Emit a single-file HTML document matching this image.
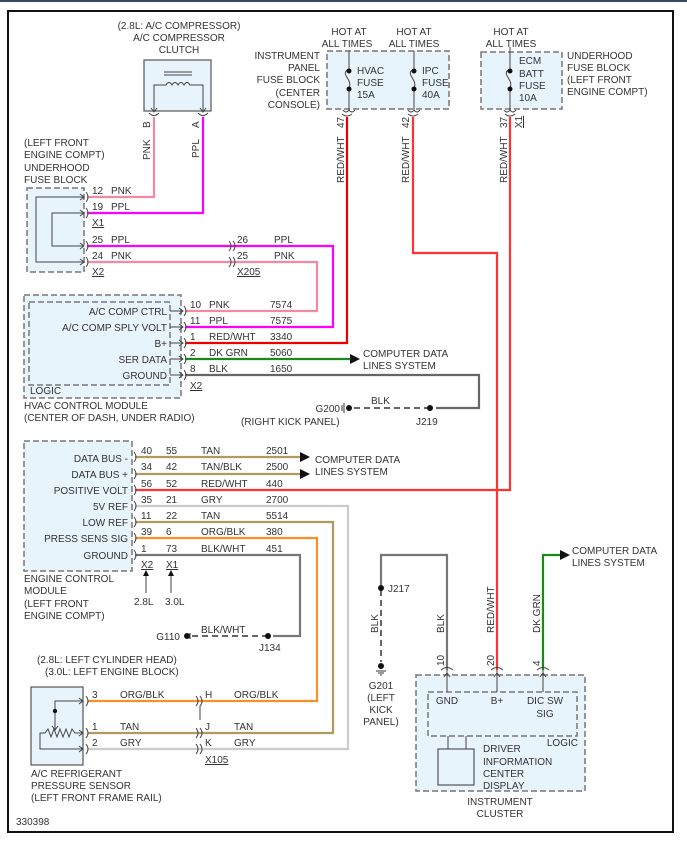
<!DOCTYPE html>
<html><head><meta charset="utf-8"><style>
html,body{margin:0;padding:0;background:#fff}
svg{display:block}
text{font-family:"Liberation Sans",Arial,sans-serif;font-size:10px;fill:#333}
.d{fill:#e8f4fc;stroke:#777;stroke-width:1.5;stroke-dasharray:6,3}
.s{fill:#e8f4fc;stroke:#555;stroke-width:1.2}
.k{fill:none;stroke:#444;stroke-width:1}
.w{fill:none;stroke-width:2.2}
.r{text-anchor:end}
.m{text-anchor:middle}
</style></head><body>
<svg width="687" height="844" viewBox="0 0 687 844">
<rect x="0" y="0" width="687" height="2" fill="#3a4a5a"/>
<rect x="8" y="11" width="665" height="821" fill="none" stroke="#111" stroke-width="2"/>

<!-- wires -->
<g class="w">
<path d="M154 117V197H87" stroke="#f48aa0"/>
<path d="M203 117V213H87" stroke="#f0f"/>
<path d="M87 246H333V327H185" stroke="#f0f"/>
<path d="M87 262H317V311H185" stroke="#f48aa0"/>
<path d="M347 117V343H185" stroke="#e00"/>
<path d="M413 117V253H497V670" stroke="#f33"/>
<path d="M510 117V490H135" stroke="#f33"/>
<path d="M185 359H350" stroke="#1a8a1a"/>
<path d="M185 375H479V408H436" stroke="#666"/>
<path d="M135 457H300" stroke="#b09a60"/>
<path d="M135 474H300" stroke="#b09a60"/>
<path d="M135 506H348V749H88" stroke="#ccc"/>
<path d="M135 522H333V733H88" stroke="#b09a60"/>
<path d="M135 538H317V701H88" stroke="#f5902a"/>
<path d="M135 555H300V636H273" stroke="#777"/>
<path d="M381 588V555H447V670" stroke="#777"/>
<path d="M543 670V555H562" stroke="#1a8a1a"/>
</g>
<path d="M430 408H352" stroke="#666" stroke-width="2" stroke-dasharray="6,4" fill="none"/>
<path d="M268 636H190" stroke="#666" stroke-width="2" stroke-dasharray="6,4" fill="none"/>
<path d="M381 590V662" stroke="#666" stroke-width="2" stroke-dasharray="6,4" fill="none"/>
<path d="M200 706V720" stroke="#444" stroke-width="1"/>
<!-- arrowheads -->
<path d="M350 354L360 359L350 364Z" fill="#111"/>
<path d="M300 452L310 457L300 462Z" fill="#111"/>
<path d="M300 469L310 474L300 479Z" fill="#111"/>
<path d="M560 550L570 555L560 560Z" fill="#111"/>
<!-- dots -->
<g fill="#111"><circle cx="430" cy="408" r="3"/><circle cx="349" cy="408" r="3"/><circle cx="268" cy="636" r="3"/><circle cx="187" cy="636" r="3"/><circle cx="381" cy="588" r="3"/><circle cx="381" cy="666" r="3"/></g>
<path d="M344 403V413M342 405V411M190 633V639" stroke="#333" stroke-width="1"/>
<path d="M376 671H386M378 673H384M380 675H382" stroke="#333"/>

<!-- compressor clutch -->
<text class="m" x="179" y="29">(2.8L: A/C COMPRESSOR)</text>
<text class="m" x="179" y="41">A/C COMPRESSOR</text>
<text class="m" x="179" y="53">CLUTCH</text>
<rect class="s" x="144" y="60" width="67" height="51"/>
<path class="k" d="M164 72H192M164 75H192M154 112V85H166q3-5 6 0q3-5 6 0q3-5 6 0q3-5 6 0H203V112"/>
<path class="k" d="M151 108L154 112L157 108M200 108L203 112L206 108M149 113q5 5 10 0M198 113q5 5 10 0"/>
<text transform="translate(150,128) rotate(-90)" x="0" y="0">B</text>
<text transform="translate(199,128) rotate(-90)">A</text>
<text transform="translate(150,160) rotate(-90)">PNK</text>
<text transform="translate(199,158) rotate(-90)">PPL</text>

<!-- underhood fuse block left -->
<text x="24" y="146">(LEFT FRONT</text><text x="24" y="158">ENGINE COMPT)</text><text x="24" y="171">UNDERHOOD</text><text x="24" y="183">FUSE BLOCK</text>
<rect class="d" x="27" y="188" width="57" height="84"/>
<path class="k" d="M84 197H36V262H84M84 213H52V246H84"/>
<path class="k" d="M80 194L84 197L80 200M80 210L84 213L80 216M80 243L84 246L80 249M80 259L84 262L80 265"/>
<path class="k" d="M86 192q4 5 0 10M86 208q4 5 0 10M86 241q4 5 0 10M86 257q4 5 0 10"/>
<text x="92" y="194">12</text><text x="111" y="194">PNK</text>
<text x="92" y="210">19</text><text x="111" y="210">PPL</text>
<text x="92" y="226" text-decoration="underline">X1</text>
<text x="92" y="243">25</text><text x="111" y="243">PPL</text>
<text x="92" y="259">24</text><text x="111" y="259">PNK</text>
<text x="92" y="275" text-decoration="underline">X2</text>
<path class="k" d="M229 241q4 5 0 10M233 241q4 5 0 10M229 257q4 5 0 10M233 257q4 5 0 10"/>
<text x="237" y="243">26</text><text x="274" y="243">PPL</text>
<text x="237" y="259">25</text><text x="274" y="259">PNK</text>
<text x="237" y="275" text-decoration="underline">X205</text>

<!-- IP fuse block -->
<text class="r" x="320" y="59">INSTRUMENT</text><text class="r" x="320" y="71">PANEL</text><text class="r" x="320" y="83">FUSE BLOCK</text><text class="r" x="320" y="96">(CENTER</text><text class="r" x="320" y="108">CONSOLE)</text>
<text class="m" x="349" y="35">HOT AT</text><text class="m" x="347" y="47">ALL TIMES</text>
<text class="m" x="414" y="35">HOT AT</text><text class="m" x="414" y="47">ALL TIMES</text>
<rect class="d" x="327" y="51" width="122" height="58"/>
<path class="k" d="M349 51V70M349 88V110q-3 4 -6 0M349 110q3 4 6 0M347 70c-6 5 6 10 2 18"/>
<path class="k" d="M414 51V70M414 88V110q-3 4 -6 0M414 110q3 4 6 0M412 70c-6 5 6 10 2 18"/>
<circle cx="349" cy="71" r="2.5" fill="#111"/><circle cx="349" cy="89" r="2.5" fill="#111"/>
<circle cx="414" cy="71" r="2.5" fill="#111"/><circle cx="414" cy="89" r="2.5" fill="#111"/>
<path class="k" d="M342 114q5 4 10 0M408 114q5 4 10 0M505 114q5 4 10 0"/>
<text x="357" y="74">HVAC</text><text x="357" y="86">FUSE</text><text x="357" y="98">15A</text>
<text x="422" y="74">IPC</text><text x="422" y="86">FUSE</text><text x="422" y="98">40A</text>
<text transform="translate(344,128) rotate(-90)">47</text>
<text transform="translate(409,128) rotate(-90)">42</text>
<text transform="translate(344,183) rotate(-90)">RED/WHT</text>
<text transform="translate(409,183) rotate(-90)">RED/WHT</text>

<!-- ECM fuse -->
<text class="m" x="511" y="35">HOT AT</text><text class="m" x="511" y="47">ALL TIMES</text>
<rect class="d" x="481" y="52" width="81" height="57"/>
<path class="k" d="M510 47V70M510 88V110q-3 4 -6 0M510 110q3 4 6 0M508 70c-6 5 6 10 2 18"/>
<circle cx="510" cy="71" r="2.5" fill="#111"/><circle cx="510" cy="89" r="2.5" fill="#111"/>
<text x="519" y="64">ECM</text><text x="519" y="77">BATT</text><text x="519" y="89">FUSE</text><text x="519" y="101">10A</text>
<text x="567" y="59">UNDERHOOD</text><text x="567" y="71">FUSE BLOCK</text><text x="567" y="83">(LEFT FRONT</text><text x="567" y="95">ENGINE COMPT)</text>
<text transform="translate(507,128) rotate(-90)">37</text>
<text transform="translate(522,128) rotate(-90)" text-decoration="underline">X1</text>
<text transform="translate(507,183) rotate(-90)">RED/WHT</text>

<!-- HVAC module -->
<rect class="d" x="24" y="295" width="157" height="103"/>
<rect class="d" x="29" y="302" width="141" height="83" fill="none"/>
<g class="k">
<path d="M170 311H183M170 327H183M170 343H183M170 359H183M170 375H183"/>
<path d="M179 308L183 311L179 314M179 324L183 327L179 330M179 340L183 343L179 346M179 356L183 359L179 362M179 372L183 375L179 378"/>
<path d="M184 306q4 5 0 10M184 322q4 5 0 10M184 338q4 5 0 10M184 354q4 5 0 10M184 370q4 5 0 10"/>
</g>
<text class="r" x="167" y="315">A/C COMP CTRL</text>
<text class="r" x="167" y="331">A/C COMP SPLY VOLT</text>
<text class="r" x="167" y="347">B+</text>
<text class="r" x="167" y="363">SER DATA</text>
<text class="r" x="167" y="379">GROUND</text>
<text x="30" y="394">LOGIC</text>
<text x="24" y="409">HVAC CONTROL MODULE</text><text x="24" y="421">(CENTER OF DASH, UNDER RADIO)</text>
<text x="190" y="308">10</text><text x="209" y="308">PNK</text><text x="270" y="308">7574</text>
<text x="190" y="324">11</text><text x="209" y="324">PPL</text><text x="270" y="324">7575</text>
<text x="190" y="340">1</text><text x="209" y="340">RED/WHT</text><text x="270" y="340">3340</text>
<text x="190" y="356">2</text><text x="209" y="356">DK GRN</text><text x="270" y="356">5060</text>
<text x="190" y="372">8</text><text x="209" y="372">BLK</text><text x="270" y="372">1650</text>
<text x="190" y="389" text-decoration="underline">X2</text>
<text x="363" y="357">COMPUTER DATA</text><text x="363" y="369">LINES SYSTEM</text>
<text x="371" y="404">BLK</text>
<text class="r" x="340" y="412">G200</text>
<text x="241" y="425">(RIGHT KICK PANEL)</text>
<text x="416" y="425">J219</text>

<!-- ECM -->
<rect class="d" x="24" y="441" width="108" height="130"/>
<text class="r" x="128" y="462">DATA BUS -</text>
<text class="r" x="128" y="478">DATA BUS +</text>
<text class="r" x="128" y="494">POSITIVE VOLT</text>
<text class="r" x="128" y="510">5V REF</text>
<text class="r" x="128" y="526">LOW REF</text>
<text class="r" x="128" y="542">PRESS SENS SIG</text>
<text class="r" x="128" y="559">GROUND</text>
<path class="k" d="M134 452q4 5 0 10M134 469q4 5 0 10M134 485q4 5 0 10M134 501q4 5 0 10M134 517q4 5 0 10M134 533q4 5 0 10M134 550q4 5 0 10"/>
<g>
<text x="141" y="454">40</text><text x="166" y="454">55</text><text x="201" y="454">TAN</text><text x="266" y="454">2501</text>
<text x="141" y="470">34</text><text x="166" y="470">42</text><text x="201" y="470">TAN/BLK</text><text x="266" y="470">2500</text>
<text x="141" y="487">56</text><text x="166" y="487">52</text><text x="201" y="487">RED/WHT</text><text x="266" y="487">440</text>
<text x="141" y="503">35</text><text x="166" y="503">21</text><text x="201" y="503">GRY</text><text x="266" y="503">2700</text>
<text x="141" y="519">11</text><text x="166" y="519">22</text><text x="201" y="519">TAN</text><text x="266" y="519">5514</text>
<text x="141" y="535">39</text><text x="166" y="535">6</text><text x="201" y="535">ORG/BLK</text><text x="266" y="535">380</text>
<text x="141" y="552">1</text><text x="166" y="552">73</text><text x="201" y="552">BLK/WHT</text><text x="266" y="552">451</text>
<text x="141" y="568" text-decoration="underline">X2</text><text x="166" y="568" text-decoration="underline">X1</text>
</g>
<path class="k" d="M146 593V572M171 593V572"/>
<path d="M143 576L146 570L149 576ZM168 576L171 570L174 576Z" fill="#111"/>
<text x="134" y="605">2.8L</text><text x="165" y="605">3.0L</text>
<text x="315" y="463">COMPUTER DATA</text><text x="315" y="475">LINES SYSTEM</text>
<text x="24" y="582">ENGINE CONTROL</text><text x="24" y="594">MODULE</text><text x="24" y="607">(LEFT FRONT</text><text x="24" y="619">ENGINE COMPT)</text>
<text x="201" y="633">BLK/WHT</text>
<text class="r" x="180" y="640">G110</text>
<text x="259" y="651">J134</text>
<text x="37" y="663">(2.8L: LEFT CYLINDER HEAD)</text>
<text x="45" y="675">(3.0L: LEFT ENGINE BLOCK)</text>

<!-- J217 / G201 -->
<text x="388" y="592">J217</text>
<text transform="translate(378,633) rotate(-90)">BLK</text>
<text transform="translate(444,633) rotate(-90)">BLK</text>
<text transform="translate(494,633) rotate(-90)">RED/WHT</text>
<text transform="translate(540,633) rotate(-90)">DK GRN</text>
<text class="m" x="381" y="689">G201</text><text class="m" x="381" y="701">(LEFT</text><text class="m" x="381" y="713">KICK</text><text class="m" x="381" y="725">PANEL)</text>
<text x="572" y="554">COMPUTER DATA</text><text x="572" y="566">LINES SYSTEM</text>

<!-- instrument cluster -->
<rect class="d" x="416" y="675" width="169" height="116"/>
<rect class="d" x="428" y="692" width="149" height="44" fill="none"/>
<g class="k">
<path d="M447 670V692M497 670V692M543 670V692M444 677L447 673L450 677M494 677L497 673L500 677M540 677L543 673L546 677"/>
<path d="M441 670q6 -5 12 0M491 670q6 -5 12 0M537 670q6 -5 12 0"/>
<path d="M448 736V749M466 736V749"/>
</g>
<text transform="translate(444,666) rotate(-90)">10</text>
<text transform="translate(494,666) rotate(-90)">20</text>
<text transform="translate(540,666) rotate(-90)">4</text>
<text class="m" x="447" y="704">GND</text><text class="m" x="497" y="704">B+</text>
<text class="m" x="545" y="704">DIC SW</text><text class="m" x="545" y="717">SIG</text>
<text class="r" x="578" y="746">LOGIC</text>
<rect class="s" x="438" y="749" width="36" height="36"/>
<text x="483" y="752">DRIVER</text><text x="483" y="765">INFORMATION</text><text x="483" y="777">CENTER</text><text x="483" y="789">DISPLAY</text>
<text class="m" x="500" y="805">INSTRUMENT</text><text class="m" x="500" y="817">CLUSTER</text>

<!-- pressure sensor -->
<rect class="s" x="31" y="687" width="52" height="78"/>
<g class="k">
<path d="M83 701H55V730M83 733H75l-3 -4l-3 8l-3 -8l-3 8l-3 -8l-3 8l-3 -8l-3 8l-3 -8l-3 4H40V749H83"/>
<path d="M52 726L55 730L58 726M79 698L83 701L79 704M79 730L83 733L79 736M79 746L83 749L79 752"/>
<path d="M86 696q4 5 0 10M86 728q4 5 0 10M86 744q4 5 0 10"/>
<path d="M196 696q4 5 0 10M200 696q4 5 0 10M196 728q4 5 0 10M200 728q4 5 0 10M196 744q4 5 0 10M200 744q4 5 0 10"/>
</g>
<circle cx="55" cy="711" r="2.2" fill="#111"/>
<text x="92" y="698">3</text><text x="120" y="698">ORG/BLK</text>
<text x="92" y="730">1</text><text x="120" y="730">TAN</text>
<text x="92" y="746">2</text><text x="120" y="746">GRY</text>
<text x="205" y="698">H</text><text x="234" y="698">ORG/BLK</text>
<text x="205" y="730">J</text><text x="234" y="730">TAN</text>
<text x="205" y="746">K</text><text x="234" y="746">GRY</text>
<text x="205" y="763" text-decoration="underline">X105</text>
<text x="31" y="777">A/C REFRIGERANT</text><text x="31" y="789">PRESSURE SENSOR</text><text x="31" y="801">(LEFT FRONT FRAME RAIL)</text>
<text x="16" y="825">330398</text>
</svg>
</body></html>
